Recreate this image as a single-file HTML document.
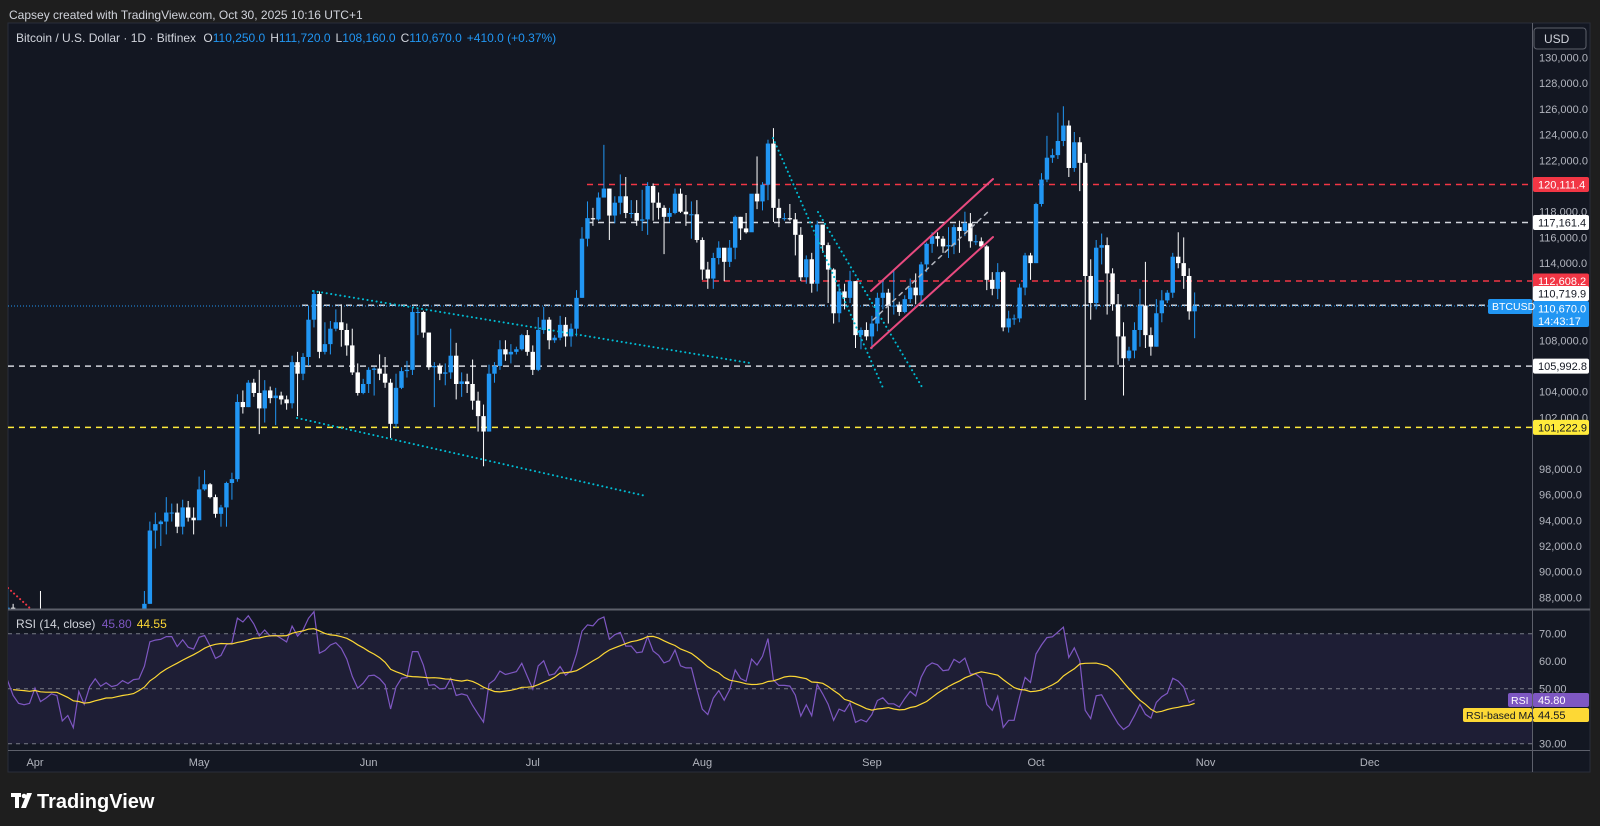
<!DOCTYPE html>
<html><head><meta charset="utf-8">
<style>
html,body{margin:0;padding:0;background:#1e1e1e;width:1600px;height:826px;overflow:hidden}
svg{display:block;font-family:"Liberation Sans",sans-serif}
</style></head>
<body>
<svg id="chart" width="1600" height="826" viewBox="0 0 1600 826">
<defs>
<clipPath id="mainClip"><rect x="8" y="23" width="1524" height="586"/></clipPath>
<clipPath id="rsiClip"><rect x="8" y="610" width="1524" height="140"/></clipPath>
</defs>
<rect x="0" y="0" width="1600" height="826" fill="#1e1e1e"/>
<text x="9" y="19" font-size="12" fill="#d1d4dc">Capsey created with TradingView.com, Oct 30, 2025 10:16 UTC+1</text>
<rect x="8" y="23" width="1582" height="749" fill="#131722" stroke="#2a2e39"/>
<rect x="8" y="633.7" width="1524" height="110" fill="#1e1e35"/>
<g id="mainG" clip-path="url(#mainClip)"></g>
<g id="rsiG" clip-path="url(#rsiClip)"></g>
<line x1="8" y1="609.5" x2="1590" y2="609.5" stroke="#5d606b" stroke-width="2"/>
<line x1="8" y1="750.5" x2="1590" y2="750.5" stroke="#5d606b" stroke-width="1"/>
<line x1="1532.5" y1="23" x2="1532.5" y2="772" stroke="#5d606b" stroke-width="1"/>
<g id="axisG"></g>
<text x="16" y="42" font-size="12" fill="#d1d4dc">Bitcoin / U.S. Dollar · 1D · Bitfinex <tspan dx="4">O</tspan><tspan fill="#2196f3">110,250.0</tspan><tspan dx="5">H</tspan><tspan fill="#2196f3">111,720.0</tspan><tspan dx="5">L</tspan><tspan fill="#2196f3">108,160.0</tspan><tspan dx="5">C</tspan><tspan fill="#2196f3">110,670.0</tspan><tspan dx="5" fill="#2196f3">+410.0 (+0.37%)</tspan></text>
<text x="16" y="628" font-size="12" fill="#d1d4dc">RSI (14, close) <tspan dx="3" fill="#7e57c2">45.80</tspan><tspan dx="5" fill="#fdd835">44.55</tspan></text>
<rect x="1534" y="28" width="52" height="21" rx="3" fill="#131722" stroke="#5d606b"/>
<text x="1544" y="43" font-size="12" fill="#d1d4dc">USD</text>
<g>
<rect x="11" y="793" width="10" height="4" fill="#fff"/><rect x="15" y="793" width="4" height="15" fill="#fff"/>
<circle cx="24" cy="796" r="2.3" fill="#fff"/><polygon points="27,793 32,793 26,808 21,808" fill="#fff"/>
<text x="37" y="808" font-size="20" font-weight="bold" fill="#fff">TradingView</text>
</g>
</svg>
<script>
// ---- data (thousands USD), daily from 2025-03-01 ----
const firstOpen = 84.4;
const closes = [
86.0,94.2,86.1,87.2,90.6,89.9,86.7,86.1,80.7,78.5,82.9,83.7,81.0,83.9,84.3,82.6,84.0,82.7,86.8,84.2,84.0,83.8,86.0,87.5,87.4,86.9,87.2,84.3,82.6,82.3,82.5,
85.1,82.5,83.1,83.8,83.5,78.4,79.2,76.3,82.6,79.6,83.4,85.3,83.7,84.5,83.7,84.0,84.9,84.4,85.1,85.2,87.5,93.2,93.7,93.9,94.6,94.6,93.5,95.0,94.2,94.0,
96.4,96.8,95.8,94.5,95.0,96.9,97.2,103.2,102.8,104.7,103.9,102.7,104.1,103.5,103.7,103.4,103.1,106.3,105.4,106.7,109.6,111.6,107.1,107.7,108.9,109.4,108.8,107.6,105.5,103.9,104.6,
105.7,105.8,105.4,104.7,101.5,104.3,105.6,105.7,110.2,110.2,108.6,105.9,106.0,105.4,105.5,106.8,104.6,104.8,104.6,103.3,102.1,100.9,105.4,106.0,107.3,106.9,107.1,107.3,108.4,107.1,
105.7,108.8,109.6,108.0,108.2,109.2,108.3,108.9,111.3,115.9,117.5,117.4,119.1,119.8,117.7,118.7,119.2,117.9,117.9,117.3,117.4,120.0,118.7,118.3,117.6,117.9,119.4,118.0,117.8,117.8,115.8,
113.5,112.8,114.4,115.2,114.1,115.2,117.6,116.7,116.4,119.4,118.8,120.1,123.3,118.3,117.5,117.5,117.4,116.2,112.9,114.3,112.4,117.0,115.4,113.5,110.1,111.8,111.3,112.6,108.4,108.8,108.3,
109.3,111.3,111.7,110.7,110.7,110.2,111.2,112.1,111.5,113.9,115.5,116.1,115.9,115.3,115.4,116.8,116.5,117.1,115.7,115.7,115.3,112.7,112.0,113.3,109.0,109.7,109.7,112.1,114.6,114.0,
118.6,120.5,122.2,122.4,123.5,124.7,121.4,123.4,121.8,113.0,110.9,115.2,115.4,113.2,110.8,108.3,106.6,107.2,108.8,110.7,108.4,107.5,110.1,111.1,111.7,114.5,114.0,113.0,110.25,110.67];
const highs = [
86.5,95.0,94.4,88.9,92.3,92.0,91.2,86.9,86.4,84.0,83.6,84.4,84.3,85.3,84.6,85.0,84.8,84.0,87.4,87.4,85.2,84.5,86.2,88.6,88.7,88.2,88.7,87.5,84.6,83.9,83.9,
85.5,88.5,83.9,84.7,84.2,83.7,81.2,80.9,83.6,83.0,84.2,85.8,86.0,85.8,86.4,85.5,85.4,85.1,85.6,85.3,88.5,93.9,94.6,94.0,95.8,95.3,95.3,95.6,95.5,95.0,
97.4,97.9,96.9,96.0,95.2,97.0,97.7,103.8,104.1,104.9,105.0,105.7,104.9,104.4,104.3,104.0,103.7,106.8,107.1,107.0,110.7,111.9,111.8,109.4,109.5,110.4,110.8,109.3,108.9,106.2,105.0,
105.9,105.9,106.9,106.7,105.0,105.4,105.9,106.4,110.5,110.4,110.3,108.6,106.3,106.2,106.2,108.9,107.8,105.5,105.4,106.5,104.0,103.0,106.1,106.3,108.0,108.0,107.7,107.5,108.5,108.8,
107.6,109.8,110.6,109.8,108.4,109.9,109.8,109.3,111.9,116.8,118.8,118.3,119.5,123.2,119.8,119.2,120.9,120.7,118.9,118.9,119.7,120.3,120.2,119.5,118.5,118.3,119.8,119.8,119.3,118.8,118.9,
116.0,114.1,114.8,115.7,115.0,115.8,117.7,117.6,117.9,119.3,122.3,120.3,123.6,124.5,119.0,117.9,118.6,117.9,116.8,114.6,114.8,117.3,117.0,115.6,113.6,112.4,112.4,113.4,112.6,109.0,109.4,
109.9,111.7,112.6,112.0,113.4,111.0,111.5,112.8,113.2,114.1,115.6,116.4,116.4,116.1,116.8,117.0,117.3,118.0,117.9,116.2,116.0,115.4,113.3,114.0,113.4,110.3,110.0,112.4,114.8,114.8,
118.7,121.0,123.9,122.9,125.7,126.2,125.1,124.2,123.8,122.5,114.3,115.8,116.3,116.0,113.6,111.6,109.4,107.5,109.4,112.0,114.1,109.0,111.2,111.9,111.9,114.8,116.4,116.0,113.6,111.72];
const lows = [
84.7,85.0,85.0,81.4,86.3,88.2,84.7,85.9,80.1,77.6,76.6,81.0,79.9,80.9,83.6,82.0,82.3,81.1,82.5,83.6,83.2,83.6,83.6,85.9,86.3,86.1,85.9,83.9,81.6,81.5,81.3,
82.1,82.3,81.2,81.6,82.3,77.2,74.4,76.2,74.6,78.4,78.9,82.7,83.0,83.3,83.4,83.2,83.9,84.0,84.1,83.9,85.1,87.5,91.8,92.0,92.9,93.9,93.0,92.9,93.9,92.9,
94.2,96.3,95.7,94.2,93.5,93.5,95.6,97.0,102.3,102.8,103.6,100.7,101.6,103.1,101.4,103.0,102.6,102.7,102.1,104.9,106.0,109.0,106.6,106.9,106.9,108.7,107.5,106.8,105.3,103.7,103.8,
103.9,103.7,104.9,104.3,100.4,101.2,104.2,105.1,105.3,108.4,108.2,105.7,102.8,104.9,104.5,105.0,103.4,103.6,103.9,102.6,100.9,98.2,100.9,104.7,105.7,106.4,106.2,106.9,107.2,106.8,
105.3,105.6,108.5,107.3,107.8,108.0,107.5,107.5,108.3,111.3,115.3,116.9,117.3,119.1,115.8,117.1,117.8,117.5,117.5,116.9,116.5,116.2,117.3,117.4,114.7,117.2,117.8,117.9,116.9,115.9,115.6,
112.7,112.0,112.0,113.9,112.6,113.7,114.3,115.8,116.3,116.5,118.2,118.1,118.9,117.2,116.8,117.3,117.3,114.6,112.6,112.4,111.7,111.8,114.8,110.9,109.3,109.4,110.4,110.9,107.4,107.3,108.0,
107.3,108.7,110.4,109.3,110.0,109.9,110.1,110.9,110.8,111.0,113.3,114.8,115.3,114.8,114.4,114.7,114.8,116.1,115.2,115.4,115.2,111.9,111.5,111.2,108.7,108.6,109.2,109.4,111.5,112.7,
114.0,118.4,120.3,121.8,122.1,123.1,120.7,121.1,119.6,103.35,109.6,110.4,113.9,110.0,110.3,106.1,103.7,106.4,106.6,107.5,107.4,106.8,107.5,109.4,110.9,111.3,113.6,112.0,109.6,108.16];
const priceTicks = [88,90,92,94,96,98,102,104,108,114,116,118,122,124,126,128,130];
const monthLabels = ["Apr","May","Jun","Jul","Aug","Sep","Oct","Nov","Dec"];
const monthStartIdx = [31,61,92,122,153,184,214,245,275];
const levelPrices = [120.1114,117.1614,112.6082,110.7199,105.9928,101.2229];
const levelNames = ["resistance-120111","level-117161","resistance-112608","level-110720","support-105993","support-101223"];
const rsiTicks = [70,60,50,30];

const NS="http://www.w3.org/2000/svg";
const xOf=i=>35+(i-31)*5.47;
const yP=p=>211.7+(118-p)*12.857;
const yR=v=>688.7-(v-50)*2.75;
function mk(tag,attrs,parent){const e=document.createElementNS(NS,tag);for(const k in attrs)e.setAttribute(k,attrs[k]);parent.appendChild(e);return e;}
const mainG=document.getElementById('mainG'),rsiG=document.getElementById('rsiG'),axisG=document.getElementById('axisG');

// horizontal levels
const lvlStyle=[["#f23645",587],["#d1d4dc",587],["#f23645",702],["#d1d4dc",302],["#d1d4dc",8],["#ffeb3b",8]];
levelPrices.forEach((p,k)=>{
  const l=mk('line',{x1:lvlStyle[k][1],x2:1532,y1:yP(p),y2:yP(p),stroke:lvlStyle[k][0],'stroke-width':1.5,'stroke-dasharray':'6 5'},mainG);
  
  
});
const cur=mk('line',{x1:8,x2:1532,y1:yP(closes[closes.length-1]),y2:yP(closes[closes.length-1]),stroke:'#2196f3','stroke-width':1,'stroke-dasharray':'1 2'},mainG);



// candles
for(let i=0;i<closes.length;i++){
  const o=i===0?firstOpen:closes[i-1],c=closes[i],up=c>=o,col=up?'#2196f3':'#ffffff',x=xOf(i);
  const g=mk('g',{},mainG);
  
  
  mk('line',{x1:x,x2:x,y1:yP(highs[i]),y2:yP(lows[i]),stroke:col,'stroke-width':1},g);
  const t=yP(Math.max(o,c)),b=yP(Math.min(o,c));
  mk('rect',{x:x-2.2,y:t,width:4.4,height:Math.max(1,b-t),fill:col},g);
}

// drawings
function drw(name,x1,y1,x2,y2,col,w,dash){const l=mk('line',{x1,y1,x2,y2,stroke:col,'stroke-width':w,'stroke-linecap':'round'},mainG);if(dash)l.setAttribute('stroke-dasharray',dash);
  
  }
drw('trendline-upper-wedge',313,291,750,363,'#00bcd4',2,'0.1 4.5');
drw('trendline-lower-wedge',297,418,646,496,'#00bcd4',2,'0.1 4.5');
drw('trendline-aug-a',773,138,883,388,'#00bcd4',2,'0.1 4.5');
drw('trendline-aug-b',818,212,922,387,'#00bcd4',2,'0.1 4.5');
drw('channel-upper',871,291,993,179,'#e84a7f',2,null);
drw('channel-lower',871,348,993,237,'#e84a7f',2,null);
drw('channel-mid',873,320,990,210,'#b2b5be',1.5,'4 5');
drw('trendline-red-left',8,588,32,610,'#f23645',2,'0.1 4');

// RSI
const rsi=[],ma=[];
let ag=0,al=0;
for(let i=1;i<closes.length;i++){
  const d=closes[i]-closes[i-1],g=Math.max(d,0),l=Math.max(-d,0);
  if(i<=14){ag+=g/14;al+=l/14;}else{ag=(ag*13+g)/14;al=(al*13+l)/14;}
  rsi[i]=i>=14?(al===0?100:100-100/(1+ag/al)):null;
}
for(let i=0;i<closes.length;i++){
  if(i>=27){let s=0;for(let k=i-13;k<=i;k++)s+=rsi[k];ma[i]=s/14;}else ma[i]=null;
}
[[70,'rsi-upper-band'],[50,'rsi-middle-band'],[30,'rsi-lower-band']].forEach(b=>{
  const l=mk('line',{x1:8,x2:1532,y1:yR(b[0]),y2:yR(b[0]),stroke:'#787b86','stroke-width':1,'stroke-dasharray':'4 4'},rsiG);
  
  
});
function path(arr){let s='';for(let i=0;i<arr.length;i++){if(arr[i]==null)continue;s+=(s?'L':'M')+xOf(i).toFixed(1)+' '+yR(arr[i]).toFixed(1);}return s;}
const rl=mk('path',{d:path(rsi),fill:'none',stroke:'#7e57c2','stroke-width':1.2},rsiG);


const ml=mk('path',{d:path(ma),fill:'none',stroke:'#fdd835','stroke-width':1.2},rsiG);



// axes
priceTicks.forEach(p=>{
  const t=mk('text',{x:1539,y:yP(p*1)+4,'font-size':11,fill:'#b2b5be'},axisG);
  t.textContent=(p*1000).toLocaleString('en-US')+'.0';
  
  
});
rsiTicks.forEach(v=>{
  const t=mk('text',{x:1539,y:yR(v)+4,'font-size':11,fill:'#b2b5be'},axisG);
  t.textContent=v.toFixed(2);
  
  
});
monthLabels.forEach((m,k)=>{
  const t=mk('text',{x:xOf(monthStartIdx[k]),y:766,'font-size':11,fill:'#b2b5be','text-anchor':'middle'},axisG);
  t.textContent=m;
  
  
});
function tag(name,y,bg,fg,txt,h){
  const g=mk('g',{},axisG);
  
  
  mk('rect',{x:1533,y:y-7.5,width:56,height:h||15,rx:2,fill:bg},g);
  const t=mk('text',{x:1538,y:y+4,'font-size':11,fill:fg},g);t.textContent=txt;return g;
}
tag('tag-120111',yP(120.1114),'#f23645','#fff','120,111.4');
tag('tag-117161',yP(117.1614),'#ffffff','#131722','117,161.4');
tag('tag-112608',yP(112.6082),'#f23645','#fff','112,608.2');
tag('tag-110720',293.5,'#ffffff','#131722','110,719.9');
const ct=tag('tag-current-price',308.5,'#2196f3','#fff','110,670.0',26);
const ct2=mk('text',{x:1538,y:325,'font-size':11,fill:'#fff'},ct);ct2.textContent='14:43:17';
tag('tag-105993',yP(105.9928),'#ffffff','#131722','105,992.8');
tag('tag-101223',yP(101.2229),'#ffeb3b','#131722','101,222.9');
const sym=mk('g',{},axisG);


mk('rect',{x:1488,y:299,width:44,height:15,rx:2,fill:'#2196f3'},sym);
const st=mk('text',{x:1492,y:310,'font-size':10.5,fill:'#fff'},sym);st.textContent='BTCUSD';
const rt=mk('g',{},axisG);


mk('rect',{x:1508,y:693,width:24,height:14,rx:2,fill:'#7e57c2'},rt);
mk('rect',{x:1533,y:693,width:56,height:14,rx:2,fill:'#7e57c2'},rt);
let tt=mk('text',{x:1511,y:704,'font-size':10.5,fill:'#fff'},rt);tt.textContent='RSI';
tt=mk('text',{x:1538,y:704,'font-size':11,fill:'#fff'},rt);tt.textContent='45.80';
const mt=mk('g',{},axisG);


mk('rect',{x:1463,y:708,width:69,height:14,rx:2,fill:'#fdd835'},mt);
mk('rect',{x:1533,y:708,width:56,height:14,rx:2,fill:'#fdd835'},mt);
tt=mk('text',{x:1466,y:719,'font-size':10.5,fill:'#131722'},mt);tt.textContent='RSI-based MA';
tt=mk('text',{x:1538,y:719,'font-size':11,fill:'#131722'},mt);tt.textContent='44.55';
</script>
</body></html>
